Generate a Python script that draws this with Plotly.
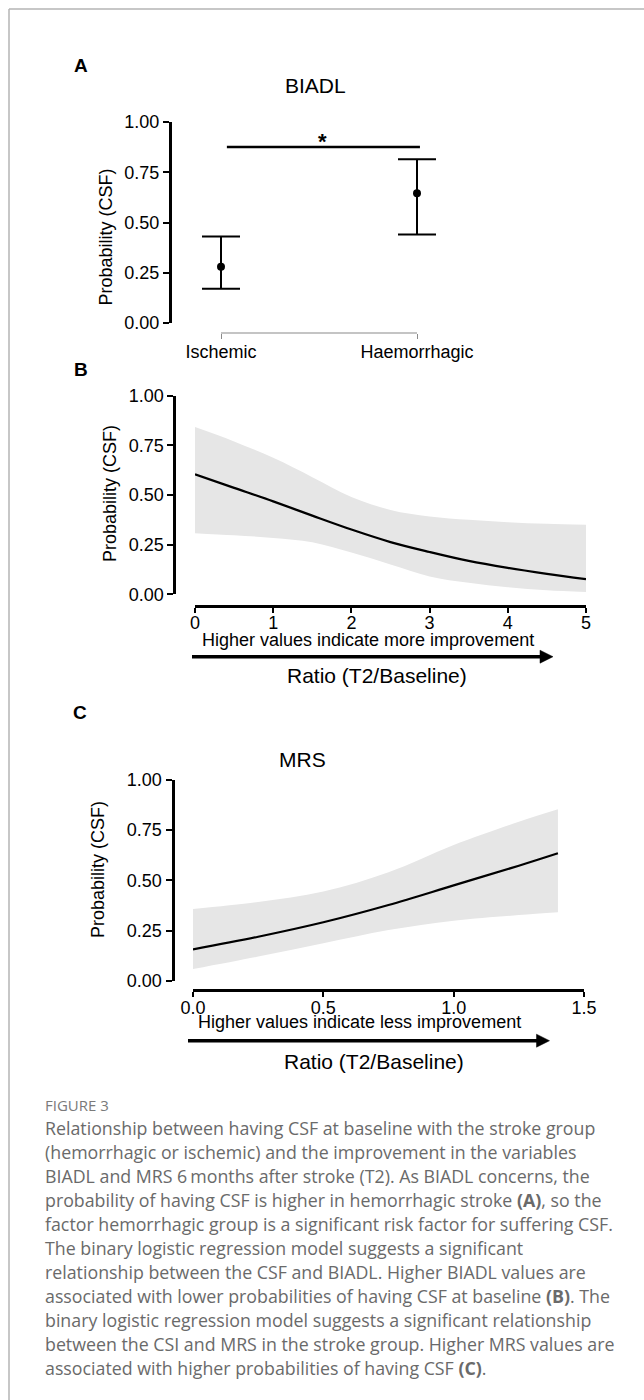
import plotly.graph_objects as go

W, H = 644, 1400

def px(x):
    return x / W

def py(y):
    return 1 - y / H

# ---------------- data ----------------
categories = ["Ischemic", "Haemorrhagic"]
biadl_prob = [0.28, 0.645]
biadl_upper = [0.43, 0.815]
biadl_lower = [0.17, 0.44]
sig_level = 0.876

b_x = [0, 0.5, 1, 1.5, 2, 2.5, 3, 3.5, 4, 4.5, 5]
b_fit = [0.604, 0.536, 0.468, 0.396, 0.326, 0.263, 0.213, 0.168, 0.133, 0.103, 0.076]
b_upper = [0.842, 0.77, 0.687, 0.59, 0.49, 0.425, 0.392, 0.375, 0.363, 0.355, 0.35]
b_lower = [0.308, 0.297, 0.284, 0.262, 0.21, 0.15, 0.09, 0.058, 0.036, 0.02, 0.012]

c_x = [0, 0.25, 0.5, 0.75, 1.0, 1.25, 1.4]
c_fit = [0.156, 0.219, 0.291, 0.377, 0.475, 0.573, 0.635]
c_upper = [0.357, 0.392, 0.444, 0.54, 0.676, 0.792, 0.854]
c_lower = [0.058, 0.12, 0.186, 0.252, 0.299, 0.327, 0.341]

y_ticks = [0, 0.25, 0.5, 0.75, 1.0]
b_xticks = [0, 1, 2, 3, 4, 5]
c_xticks = [0, 0.5, 1.0, 1.5]

caption_lines = [
    "Relationship between having CSF at baseline with the stroke group",
    "(hemorrhagic or ischemic) and the improvement in the variables",
    "BIADL and MRS 6\u2009months after stroke (T2). As BIADL concerns, the",
    "probability of having CSF is higher in hemorrhagic stroke <b>(A)</b>, so the",
    "factor hemorrhagic group is a significant risk factor for suffering CSF.",
    "The binary logistic regression model suggests a significant",
    "relationship between the CSF and BIADL. Higher BIADL values are",
    "associated with lower probabilities of having CSF at baseline <b>(B)</b>. The",
    "binary logistic regression model suggests a significant relationship",
    "between the CSI and MRS in the stroke group. Higher MRS values are",
    "associated with higher probabilities of having CSF <b>(C)</b>.",
]

FONT = "Liberation Sans, Arial, sans-serif"
BAND = "#e6e6e6"

fig = go.Figure()

# ---------------- Panel A ----------------
cat_pos = list(range(len(categories)))
fig.add_trace(go.Scatter(
    x=cat_pos, y=biadl_prob, mode="markers",
    marker=dict(color="black", size=8),
    error_y=dict(type="data", symmetric=False,
                 array=[u - p for u, p in zip(biadl_upper, biadl_prob)],
                 arrayminus=[p - l for l, p in zip(biadl_lower, biadl_prob)],
                 color="black", thickness=2, width=19),
    xaxis="x", yaxis="y", showlegend=False, cliponaxis=False,
))

# ---------------- Panel B ----------------
fig.add_trace(go.Scatter(x=b_x, y=b_lower, mode="lines", line=dict(width=0, shape="spline"),
                         xaxis="x2", yaxis="y2", showlegend=False, hoverinfo="skip"))
fig.add_trace(go.Scatter(x=b_x, y=b_upper, mode="lines", line=dict(width=0, shape="spline"),
                         fill="tonexty", fillcolor=BAND,
                         xaxis="x2", yaxis="y2", showlegend=False, hoverinfo="skip"))
fig.add_trace(go.Scatter(x=b_x, y=b_fit, mode="lines", line=dict(color="black", width=2.2, shape="spline"),
                         xaxis="x2", yaxis="y2", showlegend=False))

# ---------------- Panel C ----------------
fig.add_trace(go.Scatter(x=c_x, y=c_lower, mode="lines", line=dict(width=0, shape="spline"),
                         xaxis="x3", yaxis="y3", showlegend=False, hoverinfo="skip"))
fig.add_trace(go.Scatter(x=c_x, y=c_upper, mode="lines", line=dict(width=0, shape="spline"),
                         fill="tonexty", fillcolor=BAND,
                         xaxis="x3", yaxis="y3", showlegend=False, hoverinfo="skip"))
fig.add_trace(go.Scatter(x=c_x, y=c_fit, mode="lines", line=dict(color="black", width=2.2, shape="spline"),
                         xaxis="x3", yaxis="y3", showlegend=False))

tickfont = dict(family=FONT, size=18, color="black")

def yax(domain, position=None, anchor=None):
    d = dict(domain=domain, range=[0, 1], showgrid=False, zeroline=False, automargin=False,
             showline=True, linewidth=3, linecolor="black",
             ticks="outside", ticklen=6, tickwidth=2, tickcolor="black",
             tickvals=y_ticks, tickformat=".2f", tickfont=tickfont)
    if position is not None:
        d.update(anchor="free", position=position)
    else:
        d.update(anchor=anchor)
    return d

fig.update_layout(
    width=W, height=H, margin=dict(l=0, r=0, t=0, b=0, pad=0, autoexpand=False),
    paper_bgcolor="white", plot_bgcolor="white",
    font=dict(family=FONT, color="black"),
    xaxis=dict(domain=[px(172), px(466)], range=[-0.25, 1.25], anchor="free", position=py(333),
               showline=False, showgrid=False, zeroline=False, automargin=False,
               ticks="outside", ticklen=5, tickwidth=1.2, tickcolor="#8a8a8a", ticklabelstandoff=-3,
               tickvals=cat_pos, ticktext=categories, tickfont=tickfont),
    yaxis=yax([py(323), py(122)], anchor="x"),
    xaxis2=dict(domain=[px(195), px(586)], range=[0, 5], anchor="free", position=py(605.7),
                showline=True, linewidth=3, linecolor="black", showgrid=False, zeroline=False,
                automargin=False, ticklabelstandoff=-5,
                ticks="outside", ticklen=5, tickwidth=1.5, tickcolor="black",
                tickvals=b_xticks, tickfont=tickfont),
    yaxis2=yax([py(594.3), py(395.7)], position=px(174.3)),
    xaxis3=dict(domain=[px(193), px(584)], range=[0, 1.5], anchor="free", position=py(990),
                showline=True, linewidth=3, linecolor="black", showgrid=False, zeroline=False,
                automargin=False, ticklabelstandoff=-5,
                ticks="outside", ticklen=5, tickwidth=1.5, tickcolor="black",
                tickvals=c_xticks, tickformat=".1f", tickfont=tickfont),
    yaxis3=yax([py(980.7), py(780)], position=px(172.5)),
)

shapes = []
# page border (top and left)
shapes.append(dict(type="line", xref="paper", yref="paper", x0=px(9), x1=1, y0=py(9), y1=py(9),
                   line=dict(color="#b4b4b4", width=1.5)))
shapes.append(dict(type="line", xref="paper", yref="paper", x0=px(9), x1=px(9), y0=py(9), y1=0,
                   line=dict(color="#b4b4b4", width=1.5)))
# category bracket for panel A
shapes.append(dict(type="line", xref="x", yref="paper", x0=cat_pos[0], x1=cat_pos[-1], y0=py(333), y1=py(333),
                   line=dict(color="#8a8a8a", width=1.2)))
# significance bar
shapes.append(dict(type="line", xref="x", yref="y", x0=0.03, x1=1.015, y0=sig_level, y1=sig_level,
                   line=dict(color="black", width=2.5)))

def arrow(x0, x1, y):
    head = 13
    half = 6.5
    shapes.append(dict(type="line", xref="paper", yref="paper", x0=px(x0), x1=px(x1 - head + 1),
                       y0=py(y), y1=py(y), line=dict(color="black", width=3.6)))
    path = "M {:.5f},{:.5f} L {:.5f},{:.5f} L {:.5f},{:.5f} Z".format(
        px(x1 - head), py(y - half), px(x1), py(y), px(x1 - head), py(y + half))
    shapes.append(dict(type="path", xref="paper", yref="paper", path=path,
                       fillcolor="black", line=dict(color="black", width=0.5)))

arrow(192, 553, 656.7)
arrow(188, 549.5, 1040.7)

fig.update_layout(shapes=shapes)

ann = []

def text(x, y, s, size, bold=False, color="black", xanchor="center", angle=0, family=FONT):
    ann.append(dict(xref="paper", yref="paper", x=px(x), y=py(y), text=("<b>%s</b>" % s) if bold else s,
                    showarrow=False, xanchor=xanchor, yanchor="middle", textangle=angle,
                    font=dict(family=family, size=size, color=color)))

# panel letters
text(72, 65, "A", 19, bold=True, xanchor="left")
text(72, 370, "B", 19, bold=True, xanchor="left")
text(71, 712, "C", 19, bold=True, xanchor="left")
# titles
text(315, 85, "BIADL", 21)
text(302, 759, "MRS", 21)
# y titles
text(105, 237.5, "Probability (CSF)", 18, angle=-90)
text(110, 494, "Probability (CSF)", 18, angle=-90)
text(98, 870, "Probability (CSF)", 18, angle=-90)
# star
ann.append(dict(xref="x", yref="paper", x=0.52, y=py(141), text="<b>*</b>", showarrow=False,
                xanchor="center", yanchor="middle", font=dict(family=FONT, size=22, color="black")))
# axis explanations
text(368, 639.5, "Higher values indicate more improvement", 18)
text(377, 675, "Ratio (T2/Baseline)", 21)
text(359, 1022.5, "Higher values indicate less improvement", 18)
text(374, 1061, "Ratio (T2/Baseline)", 21)

# caption
CAP_FONT = "Open Sans, Noto Sans, sans-serif"
text(43, 1105, "FIGURE 3", 15, color="#7a7a7a", xanchor="left", family=CAP_FONT)
for i, line in enumerate(caption_lines):
    text(43, 1128.3 + 24 * i, line, 17.8, color="#6a6a6a", xanchor="left", family=CAP_FONT)

fig.update_layout(annotations=ann)

fig.write_html("out.html", config={"displayModeBar": False},
               post_script="document.body.style.margin='0px';")
